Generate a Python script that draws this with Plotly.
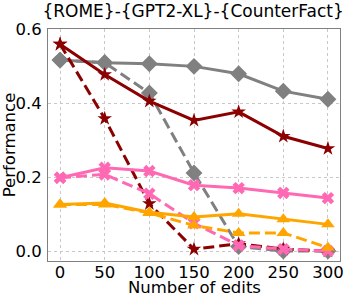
import plotly.graph_objects as go

edits = [0, 50, 100, 150, 200, 250, 300]

gray_solid = [0.516, 0.509, 0.506, 0.499, 0.479, 0.432, 0.410]
gray_dash = [0.516, 0.509, 0.427, 0.211, 0.012, 0.000, 0.000]
red_solid = [0.559, 0.477, 0.405, 0.353, 0.376, 0.310, 0.277]
red_dash = [0.559, 0.358, 0.128, 0.005, 0.020, 0.005, 0.000]
pink_solid = [0.198, 0.225, 0.216, 0.178, 0.170, 0.157, 0.143]
pink_dash = [0.198, 0.207, 0.155, 0.075, 0.015, 0.005, 0.000]
orange_solid = [0.126, 0.130, 0.105, 0.092, 0.101, 0.086, 0.072]
orange_dash = [0.126, 0.126, 0.103, 0.069, 0.049, 0.049, 0.009]

x_ticks = [0, 50, 100, 150, 200, 250, 300]
y_ticks = [0.0, 0.2, 0.4, 0.6]
y_tick_labels = ["0.0", "0.2", "0.4", "0.6"]

series = [
    (gray_solid, "#808080", "diamond", "solid", 13),
    (gray_dash, "#808080", "diamond", "11px,5px", 13),
    (red_solid, "#8B0000", "star", "solid", 11),
    (red_dash, "#8B0000", "star", "11px,5px", 11),
    (pink_solid, "#FF69B4", "x", "solid", 11),
    (pink_dash, "#FF69B4", "x", "11px,5px", 11),
    (orange_solid, "#FFA500", "triangle-up", "solid", 12),
    (orange_dash, "#FFA500", "triangle-up", "11px,5px", 12),
]

fig = go.Figure()
for vals, color, sym, dash, msize in series:
    fig.add_trace(go.Scatter(
        x=edits, y=vals, mode="lines+markers",
        line=dict(color=color, width=3, dash=dash),
        marker=dict(symbol=sym, size=msize, color=color),
        showlegend=False, cliponaxis=False, hoverinfo="skip",
    ))

axis_common = dict(
    showline=True, linecolor="#808080", linewidth=1, mirror=True,
    showgrid=True, gridcolor="#c8c8c8", gridwidth=1, griddash="dot",
    zeroline=False, ticks="", automargin=False,
    tickfont=dict(family="DejaVu Sans", size=16.5, color="black"),
)

fig.update_layout(
    width=363, height=297,
    margin=dict(l=48, r=23, t=29, b=36),
    paper_bgcolor="white", plot_bgcolor="white",
    title=dict(text="{ROME}-{GPT2-XL}-{CounterFact}", x=0.532, xanchor="center",
               y=0.962, yanchor="middle",
               font=dict(family="DejaVu Sans", size=17, color="black")),
    xaxis=dict(range=[-13.5, 313.5], tickvals=x_ticks, ticklabelstandoff=-4,
               **axis_common),
    yaxis=dict(range=[-0.027, 0.6], tickvals=y_ticks, ticktext=y_tick_labels,
               ticklabelstandoff=2,
               title=dict(text="Performance", standoff=2,
                          font=dict(family="DejaVu Sans", size=16.5, color="black")),
               **axis_common),
    annotations=[dict(text="Number of edits", xref="paper", yref="paper",
                      x=0.5, y=0, xanchor="center", yanchor="middle", yshift=-26,
                      showarrow=False,
                      font=dict(family="DejaVu Sans", size=16.5, color="black"))],
)

fig.write_html("out.html", config={"displayModeBar": False},
               post_script="document.body.style.margin='0px';")
